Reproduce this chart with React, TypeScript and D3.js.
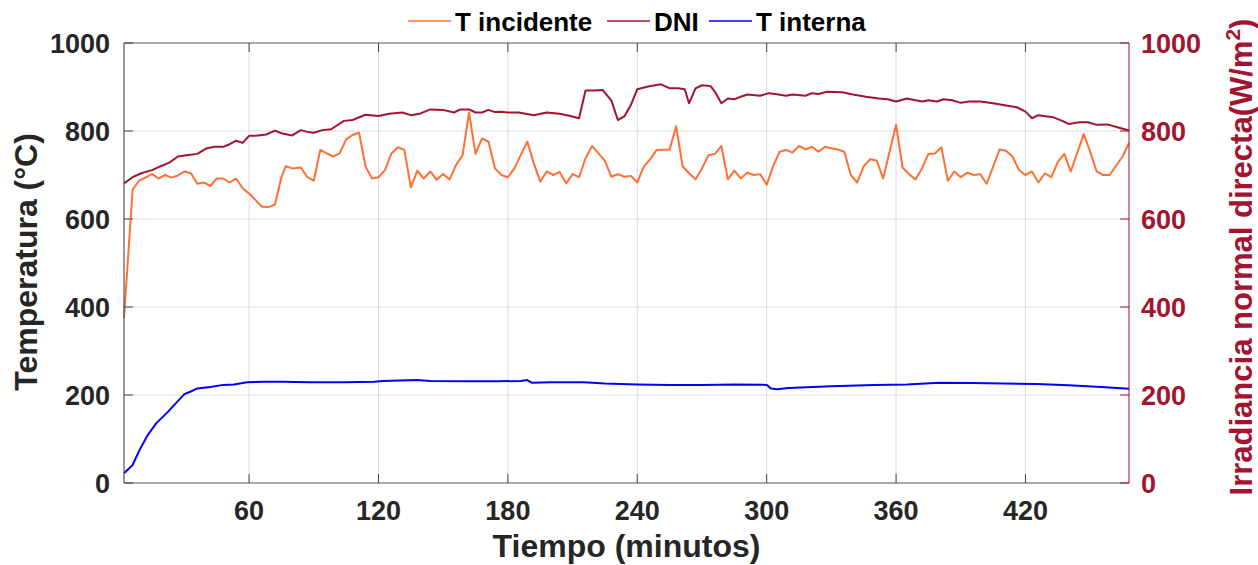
import React from 'react';
import * as d3 from 'd3';

// T incidente (°C) - minutos / valor
const tIncidente = [2, 6, 9, 11, 15, 18, 21, 24, 27, 30, 33, 36, 39, 42, 45, 48, 51, 54, 57, 60, 63, 66, 69, 72, 75, 77, 80, 84, 87, 90, 93, 96, 99, 102, 105, 108, 111, 114, 117, 120, 123, 126, 129, 132, 135, 138, 141, 144, 147, 150, 153, 156, 159, 162, 165, 168, 171, 174, 177, 180, 183, 189, 192, 195, 198, 201, 204, 207, 210, 213, 216, 219, 222, 225, 228, 231, 234, 237, 240, 243, 246, 249, 255, 258, 261, 264, 267, 270, 273, 276, 279, 282, 285, 288, 291, 294, 297, 300, 303, 306, 309, 312, 315, 318, 321, 324, 327, 330, 333, 336, 339, 342, 345, 348, 351, 354, 360, 363, 366, 369, 372, 375, 378, 381, 384, 387, 390, 393, 396, 399, 402, 408, 411, 414, 417, 420, 423, 426, 429, 432, 435, 438, 441, 447, 450, 453, 456, 459, 465, 468];
const vIncidente = [375, 667, 687, 692, 702, 692, 700, 694, 699, 708, 704, 680, 683, 675, 692, 692, 683, 692, 670, 658, 643, 628, 627, 633, 695, 720, 715, 717, 695, 687, 757, 749, 742, 749, 781, 791, 796, 719, 692, 695, 711, 749, 763, 757, 672, 710, 692, 708, 689, 702, 690, 723, 745, 842, 748, 783, 776, 715, 700, 695, 715, 776, 727, 685, 708, 700, 707, 681, 702, 695, 738, 766, 749, 732, 696, 702, 696, 698, 683, 719, 736, 757, 758, 811, 720, 704, 690, 715, 745, 748, 766, 690, 710, 692, 705, 700, 702, 678, 720, 753, 757, 751, 766, 758, 764, 753, 764, 761, 758, 753, 700, 683, 720, 736, 733, 692, 814, 717, 702, 690, 715, 748, 749, 763, 687, 708, 695, 705, 700, 702, 680, 758, 755, 742, 711, 700, 708, 683, 704, 695, 730, 748, 708, 793, 753, 708, 700, 700, 742, 773];

// DNI (W/m2)
const tDni = [2, 6, 10, 15, 19, 23, 27, 31, 36, 40, 44, 48, 51, 54, 57, 60, 63, 68, 72, 75, 80, 84, 87, 90, 94, 98, 104, 108, 114, 120, 125, 131, 135, 139, 144, 150, 155, 158, 162, 165, 168, 171, 174, 177, 180, 185, 192, 198, 204, 209, 213, 216, 220, 224, 228, 231, 234, 237, 240, 245, 251, 255, 259, 262, 264, 267, 270, 274, 276, 279, 282, 285, 288, 291, 297, 301, 304, 309, 312, 318, 321, 324, 328, 335, 340, 346, 352, 356, 360, 365, 369, 372, 375, 379, 382, 386, 390, 394, 399, 405, 411, 416, 420, 423, 426, 430, 433, 437, 440, 445, 449, 453, 458, 463, 468];
const vDni = [681, 695, 704, 711, 720, 728, 742, 745, 748, 760, 764, 764, 770, 778, 773, 789, 789, 792, 801, 795, 790, 802, 798, 796, 802, 804, 823, 825, 837, 834, 839, 842, 836, 839, 849, 848, 842, 849, 849, 842, 842, 848, 843, 844, 842, 842, 836, 842, 839, 834, 829, 892, 892, 893, 869, 825, 833, 859, 895, 901, 906, 897, 897, 895, 863, 897, 904, 902, 889, 863, 874, 872, 878, 883, 880, 886, 884, 880, 883, 880, 886, 884, 889, 888, 883, 878, 874, 872, 867, 874, 870, 867, 870, 867, 872, 870, 864, 867, 867, 863, 858, 854, 844, 829, 836, 833, 831, 823, 816, 820, 820, 814, 815, 808, 801];

// T interna (°C)
const tInterna = [2, 6, 9, 13, 17, 22, 26, 30, 33, 36, 42, 48, 53, 59, 67, 76, 88, 104, 118, 122, 138, 144, 160, 175, 186, 189, 191, 200, 215, 225, 240, 255, 270, 285, 300, 302, 305, 310, 330, 350, 365, 380, 395, 410, 425, 440, 455, 468];
const vInterna = [22, 41, 73, 109, 136, 160, 181, 202, 208, 215, 218, 223, 224, 229, 230, 230, 229, 229, 230, 232, 234, 232, 231, 231, 232, 234, 228, 229, 229, 226, 224, 223, 223, 224, 223, 215, 213, 216, 220, 223, 224, 228, 227, 226, 225, 222, 218, 214];

const xTicks = [60, 120, 180, 240, 300, 360, 420];
const yTicks = [0, 200, 400, 600, 800, 1000];

const W = 1258;
const H = 565;
const M = { left: 124, right: 1129, top: 43, bottom: 483 };
const FONT = '"Liberation Sans", Arial, Helvetica, sans-serif';
const DARK = '#262626';
const RED = '#A2142F';
const ORANGE = '#FF7033';
const BLUE = '#0000FF';

const App = () => {
  const x = d3.scaleLinear().domain([2, 468]).range([M.left, M.right]);
  const yL = d3.scaleLinear().domain([0, 1000]).range([M.bottom, M.top]);
  const yR = d3.scaleLinear().domain([0, 1000]).range([M.bottom, M.top]);

  const mk = (ts: number[], vs: number[], y: d3.ScaleLinear<number, number>) =>
    d3.line<number>().x((_, i) => x(ts[i])).y((v) => y(v))(vs) || '';

  const legend = [
    { label: 'T incidente', color: ORANGE, x0: 408 },
    { label: 'DNI', color: RED, x0: 607 },
    { label: 'T interna', color: BLUE, x0: 709 },
  ];

  return (
    <svg width={W} height={H} style={{ display: 'block', position: 'absolute', left: 0, top: 0 }} fontFamily={FONT} fontWeight="bold">
      <rect width={W} height={H} fill="#fff" />
      {/* grid */}
      {xTicks.map((t) => (
        <line key={'gx' + t} x1={x(t)} x2={x(t)} y1={M.top} y2={M.bottom} stroke="#DCDCDC" strokeWidth={1} />
      ))}
      {yTicks.slice(1, -1).map((t) => (
        <line key={'gy' + t} x1={M.left} x2={M.right} y1={yL(t)} y2={yL(t)} stroke="#DCDCDC" strokeWidth={1} />
      ))}

      {/* series */}
      <path d={mk(tInterna, vInterna, yL)} fill="none" stroke={BLUE} strokeWidth={2} strokeLinejoin="round" />
      <path d={mk(tIncidente, vIncidente, yL)} fill="none" stroke={ORANGE} strokeWidth={2} strokeLinejoin="round" />
      <path d={mk(tDni, vDni, yR)} fill="none" stroke={RED} strokeWidth={2} strokeLinejoin="round" />

      {/* box and ticks */}
      <line x1={M.left} x2={M.right} y1={M.top} y2={M.top} stroke="#555" strokeWidth={1.2} />
      <line x1={M.left} x2={M.right} y1={M.bottom} y2={M.bottom} stroke="#555" strokeWidth={1.2} />
      <line x1={M.left} x2={M.left} y1={M.top} y2={M.bottom} stroke="#555" strokeWidth={1.2} />
      <line x1={M.right} x2={M.right} y1={M.top} y2={M.bottom} stroke={RED} strokeOpacity={0.65} strokeWidth={1.6} />
      {xTicks.map((t) => (
        <g key={'tx' + t}>
          <line x1={x(t)} x2={x(t)} y1={M.bottom} y2={M.bottom - 9} stroke="#444" strokeWidth={1} />
          <line x1={x(t)} x2={x(t)} y1={M.top} y2={M.top + 9} stroke="#444" strokeWidth={1} />
          <text x={x(t)} y={520} textAnchor="middle" fontSize={27} fill={DARK}>{t}</text>
        </g>
      ))}
      {yTicks.map((t) => (
        <g key={'ty' + t}>
          <line x1={M.left} x2={M.left + 9} y1={yL(t)} y2={yL(t)} stroke="#444" strokeWidth={1} />
          <text x={110} y={yL(t) + 10} textAnchor="end" fontSize={27} fill={DARK}>{t}</text>
          <line x1={M.right} x2={M.right - 9} y1={yR(t)} y2={yR(t)} stroke={RED} strokeWidth={1} />
          <text x={1141} y={yR(t) + 10} textAnchor="start" fontSize={27} fill={RED}>{t}</text>
        </g>
      ))}

      {/* axis titles */}
      <text x={(M.left + M.right) / 2} y={557} textAnchor="middle" fontSize={32} fill={DARK}>Tiempo (minutos)</text>
      <text transform="translate(37,262) rotate(-90)" textAnchor="middle" fontSize={32} fill={DARK}>Temperatura (°C)</text>
      <text transform="translate(1252,257) rotate(-90)" textAnchor="middle" fontSize={31} fill={RED}>
        Irradiancia normal directa(W/m<tspan dy={-12} fontSize={21}>2</tspan><tspan dy={12}>)</tspan>
      </text>

      {/* legend */}
      {legend.map((d) => (
        <g key={d.label}>
          <line x1={d.x0} x2={d.x0 + 43} y1={21} y2={21} stroke={d.color} strokeWidth={1.5} />
          <text x={d.x0 + 47} y={31} fontSize={26} fill="#000">{d.label}</text>
        </g>
      ))}
    </svg>
  );
};

export default App;
